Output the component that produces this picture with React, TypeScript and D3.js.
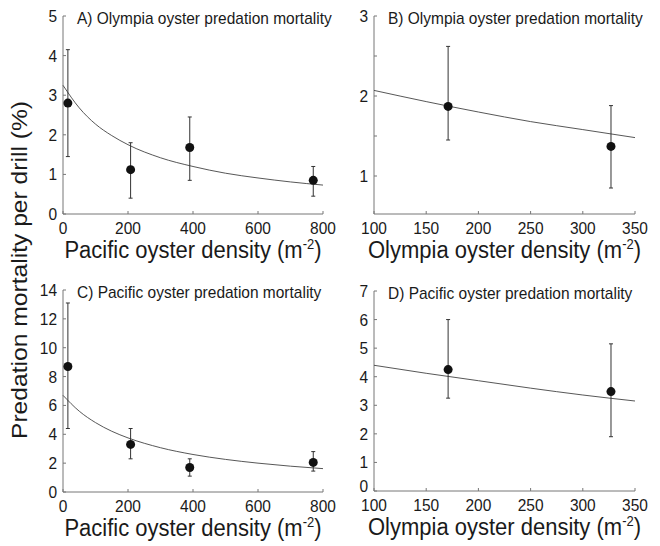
import * as d3 from "d3";

// Panel A: Olympia oyster mortality vs Pacific oyster density
const densityA = [15, 208, 390, 770];
const mortA = [2.8, 1.12, 1.68, 0.85];
const lowA = [1.45, 0.4, 0.85, 0.45];
const highA = [4.15, 1.8, 2.45, 1.2];
const fitXA = [0, 50, 100, 150, 200, 300, 400, 500, 600, 700, 800];
const fitYA = [3.25, 2.68, 2.27, 1.98, 1.75, 1.42, 1.2, 1.03, 0.91, 0.81, 0.73];

// Panel B: Olympia oyster mortality vs Olympia oyster density
const densityB = [171, 327];
const mortB = [1.87, 1.37];
const lowB = [1.45, 0.85];
const highB = [2.62, 1.88];
const fitXB = [100, 150, 200, 250, 300, 350];
const fitYB = [2.07, 1.93, 1.8, 1.68, 1.58, 1.48];

// Panel C: Pacific oyster mortality vs Pacific oyster density
const densityC = [15, 208, 390, 770];
const mortC = [8.7, 3.3, 1.7, 2.05];
const lowC = [4.4, 2.3, 1.1, 1.45];
const highC = [13.1, 4.4, 2.3, 2.8];
const fitXC = [0, 50, 100, 150, 200, 300, 400, 500, 600, 700, 800];
const fitYC = [6.7, 5.6, 4.81, 4.21, 3.75, 3.07, 2.6, 2.26, 2.0, 1.79, 1.62];

// Panel D: Pacific oyster mortality vs Olympia oyster density
const densityD = [171, 327];
const mortD = [4.25, 3.48];
const lowD = [3.25, 1.9];
const highD = [6.0, 5.15];
const fitXD = [100, 150, 200, 250, 300, 350];
const fitYD = [4.4, 4.12, 3.86, 3.6, 3.36, 3.15];

const pacificTicks = [0, 200, 400, 600, 800];
const olympiaTicks = [100, 150, 200, 250, 300, 350];
const ticksA = [0, 1, 2, 3, 4, 5];
const ticksB = [1, 2, 3];
const minorB = [1.5, 2.5];
const ticksC = [0, 2, 4, 6, 8, 10, 12, 14];
const ticksD = [0, 1, 2, 3, 4, 5, 6, 7];

const titles = [
  "A) Olympia oyster predation mortality",
  "B) Olympia oyster predation mortality",
  "C) Pacific oyster predation mortality",
  "D) Pacific oyster predation mortality",
];

const font = "'Liberation Sans', Arial, Helvetica, sans-serif";
const ink = "#1a1a1a";
const axisColor = "#777";
const stretch = 1.12; // the scanned figure is a little taller than wide

type PanelProps = {
  title: string;
  left: number;
  right: number;
  top: number;
  bottom: number;
  xDomain: [number, number];
  yDomain: [number, number];
  xTicks: number[];
  yTicks: number[];
  yMinor?: number[];
  xs: number[];
  ys: number[];
  lo: number[];
  hi: number[];
  fitX: number[];
  fitY: number[];
  xLabel: string;
  raiseZero?: boolean;
};

const at = (x: number, y: number) => `translate(${x},${y}) scale(1,${stretch})`;

function Panel(p: PanelProps) {
  const x = d3.scaleLinear().domain(p.xDomain).range([p.left, p.right]);
  const y = d3.scaleLinear().domain(p.yDomain).range([p.bottom, p.top]);
  const fit = d3
    .line<number>()
    .x((d) => x(d))
    .y((_, i) => y(p.fitY[i]))
    .curve(d3.curveMonotoneX);
  return (
    <g>
      <line x1={p.left} x2={p.left} y1={p.top} y2={p.bottom} stroke={axisColor} strokeWidth={1} />
      <line x1={p.left} x2={p.right} y1={p.bottom} y2={p.bottom} stroke={axisColor} strokeWidth={1} />
      {p.yTicks.map((t) => (
        <g key={"y" + t}>
          <line x1={p.left} x2={p.left + 3} y1={y(t)} y2={y(t)} stroke={axisColor} />
          <text
            transform={at(p.left - 6, y(t) + 6 - (p.raiseZero && t === 0 ? 5 : 0))}
            textAnchor="end"
            fontSize={15.5}
            fill={ink}
          >
            {t}
          </text>
        </g>
      ))}
      {(p.yMinor || []).map((t) => (
        <line key={"m" + t} x1={p.left} x2={p.left + 3} y1={y(t)} y2={y(t)} stroke={axisColor} />
      ))}
      {p.xTicks.map((t) => (
        <g key={"x" + t}>
          <line x1={x(t)} x2={x(t)} y1={p.bottom} y2={p.bottom - 3} stroke={axisColor} />
          <text transform={at(x(t), p.bottom + 20)} textAnchor="middle" fontSize={15.5} fill={ink}>
            {t}
          </text>
        </g>
      ))}
      <text transform={at(p.left + 14, p.top + 8)} fontSize={15.5} fill={ink}>
        {p.title}
      </text>
      <path d={fit(p.fitX) || ""} fill="none" stroke="#444" strokeWidth={0.9} />
      {p.xs.map((v, i) => (
        <g key={"p" + i}>
          <line x1={x(v)} x2={x(v)} y1={y(p.lo[i])} y2={y(p.hi[i])} stroke="#333" strokeWidth={1} />
          <line x1={x(v) - 2} x2={x(v) + 2} y1={y(p.lo[i])} y2={y(p.lo[i])} stroke="#333" />
          <line x1={x(v) - 2} x2={x(v) + 2} y1={y(p.hi[i])} y2={y(p.hi[i])} stroke="#333" />
          <circle cx={x(v)} cy={y(p.ys[i])} r={4.5} fill="#111" />
        </g>
      ))}
      <text
        transform={at((p.left + p.right) / 2, p.bottom + 44)}
        textAnchor="middle"
        fontSize={22}
        fill={ink}
      >
        {p.xLabel} (m<tspan dy={-8} fontSize={13}>-2</tspan>
        <tspan dy={8}>)</tspan>
      </text>
    </g>
  );
}

export default function App() {
  return (
    <svg
      width={660}
      height={546}
      style={{ position: "absolute", left: 0, top: 0, background: "#fff", fontFamily: font }}
    >
      <Panel
        title={titles[0]}
        left={63}
        right={323}
        top={16}
        bottom={214}
        xDomain={[0, 800]}
        yDomain={[0, 5]}
        xTicks={pacificTicks}
        yTicks={ticksA}
        xs={densityA}
        ys={mortA}
        lo={lowA}
        hi={highA}
        fitX={fitXA}
        fitY={fitYA}
        xLabel="Pacific oyster density"
      />
      <Panel
        title={titles[1]}
        left={374}
        right={635}
        top={16}
        bottom={214}
        xDomain={[100, 350]}
        yDomain={[0.525, 3]}
        xTicks={olympiaTicks}
        yTicks={ticksB}
        yMinor={minorB}
        xs={densityB}
        ys={mortB}
        lo={lowB}
        hi={highB}
        fitX={fitXB}
        fitY={fitYB}
        xLabel="Olympia oyster density"
      />
      <Panel
        title={titles[2]}
        left={63}
        right={323}
        top={290}
        bottom={492}
        xDomain={[0, 800]}
        yDomain={[0, 14]}
        xTicks={pacificTicks}
        yTicks={ticksC}
        xs={densityC}
        ys={mortC}
        lo={lowC}
        hi={highC}
        fitX={fitXC}
        fitY={fitYC}
        xLabel="Pacific oyster density"
      />
      <Panel
        title={titles[3]}
        left={374}
        right={635}
        top={291}
        bottom={491}
        xDomain={[100, 350]}
        yDomain={[0, 7]}
        xTicks={olympiaTicks}
        yTicks={ticksD}
        xs={densityD}
        ys={mortD}
        lo={lowD}
        hi={highD}
        fitX={fitXD}
        fitY={fitYD}
        xLabel="Olympia oyster density"
        raiseZero
      />
      <text
        transform={`translate(27,270) rotate(-90) scale(${stretch},1)`}
        textAnchor="middle"
        fontSize={22}
        fill={ink}
      >
        Predation mortality per drill (%)
      </text>
    </svg>
  );
}
